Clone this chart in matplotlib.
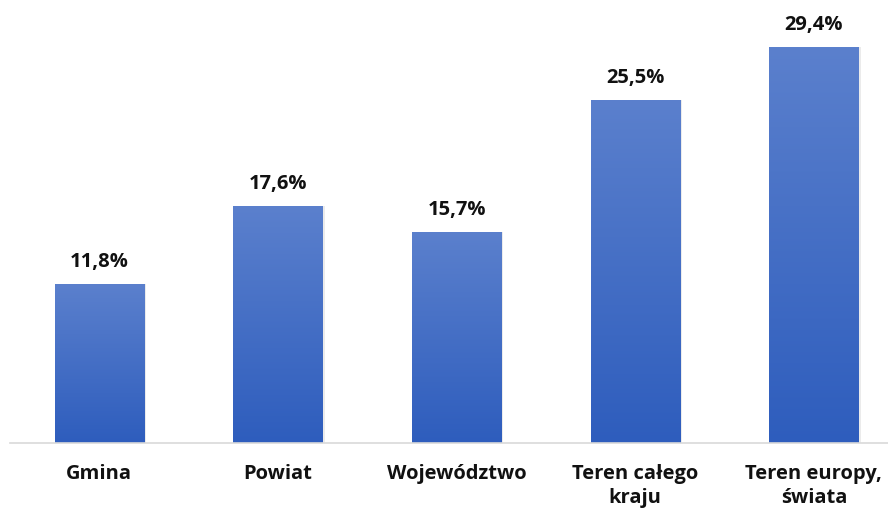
import numpy as np
import matplotlib
matplotlib.use("Agg")
import matplotlib.pyplot as plt
from matplotlib.colors import LinearSegmentedColormap

categories = ["Gmina", "Powiat", "Województwo", "Teren całego\nkraju", "Teren europy,\nświata"]
values = [11.8, 17.6, 15.7, 25.5, 29.4]
labels = ["11,8%", "17,6%", "15,7%", "25,5%", "29,4%"]

plt.rcParams["font.family"] = ["Open Sans", "DejaVu Sans"]

fig = plt.figure(figsize=(8.88, 5.12), dpi=100)
ax = fig.add_axes([10 / 888, 69 / 512, 878 / 888, 443 / 512])

x = np.arange(len(categories))
bars = ax.bar(x, values, width=0.5, color="none", edgecolor="none", zorder=2)

# vertical gradient inside every bar, lighter at the top
grad_cmap = LinearSegmentedColormap.from_list("bar", ["#2e5dbd", "#5b80cd"])
grad = np.linspace(0, 1, 256).reshape(-1, 1)
for b in bars:
    x0, w, h = b.get_x(), b.get_width(), b.get_height()
    # soft shadow on the right edge
    ax.bar(x0 + w / 2 + 0.012, h, width=w, color="#000000", alpha=0.08, zorder=1)
    im = ax.imshow(grad, cmap=grad_cmap, origin="lower", aspect="auto",
                   extent=(x0, x0 + w, 0, h), zorder=2)
    im.set_clip_path(b)

for xi, v, lab in zip(x, values, labels):
    ax.annotate(lab, (xi, v), xytext=(0, 12), textcoords="offset points",
                ha="center", va="baseline", fontsize=14.5, fontweight="bold", color="#111111")

ax.set_xlim(-0.5, 4.415)
ax.set_ylim(0, 32.9)
ax.set_xticks(x)
ax.set_xticklabels(categories, fontsize=14.5, fontweight="bold", color="#111111", linespacing=1.27)
ax.tick_params(axis="x", length=0, pad=15)
ax.set_yticks([])
for s in ["top", "right", "left"]:
    ax.spines[s].set_visible(False)
ax.spines["bottom"].set_color("#d9d9d9")
ax.spines["bottom"].set_linewidth(1.2)
ax.set_facecolor("white")

fig.savefig("out.png", dpi=100, facecolor="white")
